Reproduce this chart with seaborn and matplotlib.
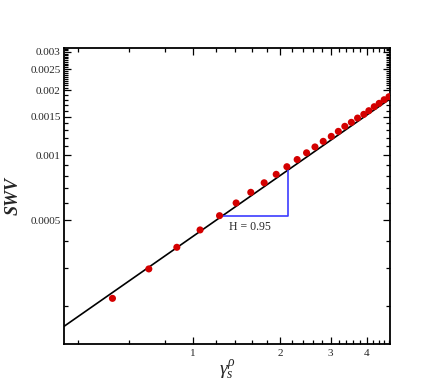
import numpy as np
import pandas as pd
import matplotlib
matplotlib.use("Agg")
import matplotlib.pyplot as plt
import seaborn as sns
from matplotlib.ticker import FixedLocator, FixedFormatter, NullFormatter

# ---- data ----
gamma_s = [0.525, 0.702, 0.878, 1.057, 1.235, 1.41, 1.585, 1.764, 1.942, 2.115,
           2.296, 2.475, 2.647, 2.827, 3.015, 3.19, 3.36, 3.54, 3.72, 3.91,
           4.07, 4.25, 4.42, 4.60, 4.78]
swv = [0.000217, 0.000297, 0.000374, 0.000450, 0.000524, 0.000600, 0.000672,
       0.000744, 0.000814, 0.000883, 0.000953, 0.001024, 0.001090, 0.001157,
       0.001220, 0.001287, 0.001358, 0.001417, 0.001483, 0.001543, 0.001604,
       0.001674, 0.001735, 0.001803, 0.001862]
fit_x = [0.3565, 4.82]
fit_y = [0.000161, 0.00182]
tri_x = [1.235, 2.138, 2.138]
tri_y = [0.000524, 0.000524, 0.000895]
x_ticks = [1, 2, 3, 4]
x_ticklabels = ["1", "2", "3", "4"]
y_ticks = [0.0005, 0.001, 0.0015, 0.002, 0.0025, 0.003]
y_ticklabels = ["0.0005", "0.001", "0.0015", "0.002", "0.0025", "0.003"]
annot_text = "H = 0.95"

sns.set_style("ticks")
plt.rcParams['font.family'] = ['Liberation Serif', 'DejaVu Serif']
plt.rcParams['mathtext.fontset'] = 'custom'
plt.rcParams['mathtext.rm'] = 'Liberation Serif'
plt.rcParams['mathtext.it'] = 'Liberation Serif:italic'

fig = plt.figure(figsize=(4.36, 3.88), dpi=100)
ax = fig.add_axes([0.1468, 0.1134, 0.7477, 0.7629])

df = pd.DataFrame({"g": gamma_s, "swv": swv})
df_fit = pd.DataFrame({"g": fit_x, "swv": fit_y})
df_tri = pd.DataFrame({"g": tri_x, "swv": tri_y, "order": [0, 1, 2]})

sns.lineplot(data=df_fit, x="g", y="swv", ax=ax, color="black", linewidth=1.2)
sns.lineplot(data=df_tri, x="g", y="swv", ax=ax, color="#3c3cff",
             linewidth=1.2, sort=False, estimator=None, zorder=2)
sns.scatterplot(data=df, x="g", y="swv", ax=ax, color="#d40000", s=26,
                edgecolor="none", zorder=3)

ax.text(1.574, 0.000462, annot_text, ha="center", va="center", fontsize=8.5)

ax.set_xscale("log")
ax.set_yscale("log")
ax.set_xlim(0.3565, 4.82)
ax.set_ylim(0.0001334, 0.00313)

ax.xaxis.set_major_locator(FixedLocator(x_ticks))
ax.xaxis.set_major_formatter(FixedFormatter(x_ticklabels))
xminor = [round(v, 1) for v in np.arange(0.4, 4.81, 0.2) if abs(v - round(v)) > 0.01]
ax.xaxis.set_minor_locator(FixedLocator(xminor))
ax.xaxis.set_minor_formatter(NullFormatter())

ax.yaxis.set_major_locator(FixedLocator(y_ticks))
ax.yaxis.set_major_formatter(FixedFormatter(y_ticklabels))
yminor = list(np.arange(0.0002, 0.00201, 0.0001)) + list(np.arange(0.00205, 0.00311, 0.00005))
yminor = [v for v in yminor if min(abs(v - t) for t in y_ticks) > 1e-7]
ax.yaxis.set_minor_locator(FixedLocator(yminor))
ax.yaxis.set_minor_formatter(NullFormatter())

ax.tick_params(which="both", direction="in", top=True, right=True,
               labelsize=8, width=0.9, color="black")
ax.tick_params(which="major", length=5)
ax.tick_params(which="minor", length=2.8)
ax.tick_params(axis="x", which="both", pad=3.5)
ax.tick_params(axis="y", which="both", pad=2.5)

for sp in ax.spines.values():
    sp.set_linewidth(1.3)
    sp.set_color("black")

ax.set_xlabel(r"$\gamma_s^\rho$", fontsize=14, labelpad=1)
ax.set_ylabel("SWV", fontsize=13, fontweight="bold", fontstyle="italic")
ax.yaxis.set_label_coords(-0.131, 0.5)

fig.savefig("out.png", dpi=100)
